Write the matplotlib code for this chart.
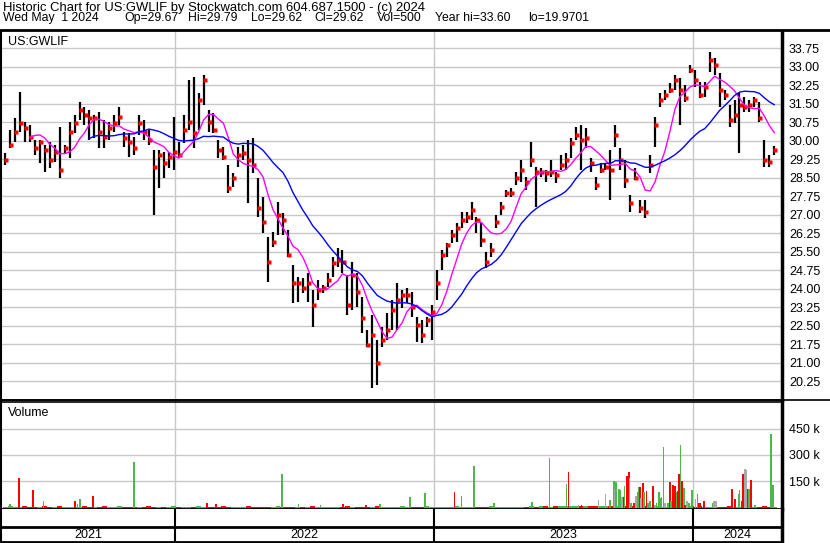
import numpy as np
import pandas as pd
import matplotlib
matplotlib.use('Agg')
import matplotlib.pyplot as plt
import matplotlib.dates as mdates

# weekly bars (one per week, first week of May 2021 onwards)
week_start = '2021-05-06'
highs = [29.51, 30.44, 30.92, 31.98, 30.76, 30.64, 30.03, 30.03, 29.83, 29.95,
         29.83, 30.56, 29.83, 30.76, 31.05, 31.57, 31.37, 31.25, 31.05, 31.17,
         30.84, 30.76, 31.05, 31.37, 30.36, 30.32, 30.15, 31.05, 30.84, 30.44,
         29.63, 29.63, 29.55, 29.55, 30.97, 29.95, 31.05, 32.46, 32.59, 31.94,
         32.67, 31.25, 31.13, 30.03, 29.75, 29.02, 28.70, 29.75, 29.83, 30.03,
         30.11, 28.49, 27.73, 26.10, 26.30, 27.52, 27.08, 26.38, 24.97, 24.48,
         24.44, 24.64, 23.95, 24.36, 24.16, 24.64, 25.29, 25.66, 25.57, 24.56,
         25.09, 24.64, 23.67, 22.33, 22.94, 21.93, 22.45, 23.02, 23.55, 24.24,
         23.95, 24.04, 23.87, 22.86, 22.74, 22.86, 23.34, 24.76, 25.57, 25.86,
         26.38, 26.67, 27.12, 27.12, 27.52, 26.91, 26.67, 25.49, 25.86, 27.00,
         27.52, 28.01, 28.09, 28.74, 29.22, 28.53, 29.95, 28.94, 28.90, 28.82,
         29.22, 28.74, 29.42, 29.51, 30.11, 30.56, 30.64, 30.52, 29.30, 28.53,
         29.10, 29.10, 29.63, 30.64, 29.71, 29.22, 27.80, 28.90, 27.60, 27.60,
         29.42, 30.97, 31.94, 32.06, 32.34, 32.67, 32.55, 32.26, 33.07, 32.87,
         32.38, 32.38, 33.60, 33.36, 32.75, 32.06, 31.45, 31.65, 31.94, 31.78,
         31.65, 31.78, 31.57, 30.03, 29.42, 29.79]
lows = [29.02, 29.71, 29.95, 30.36, 29.95, 29.95, 29.42, 29.10, 28.74, 28.90,
        29.14, 28.49, 29.51, 29.30, 30.32, 30.84, 30.64, 30.03, 30.11, 29.71,
        29.71, 30.03, 30.36, 30.64, 29.75, 29.34, 29.42, 30.24, 30.03, 29.83,
        27.00, 28.09, 28.49, 28.90, 28.82, 29.30, 29.91, 30.44, 29.71, 30.44,
        31.45, 30.36, 30.32, 29.30, 29.22, 27.89, 28.13, 28.94, 29.22, 27.48,
        28.70, 26.91, 26.26, 24.28, 25.70, 26.18, 26.18, 25.29, 23.43, 23.47,
        23.83, 23.47, 22.45, 23.55, 23.83, 24.08, 24.48, 24.89, 24.64, 22.94,
        23.14, 23.26, 22.21, 21.64, 19.97, 20.11, 21.64, 21.93, 22.33, 22.33,
        23.22, 23.43, 22.86, 21.85, 21.81, 22.45, 21.93, 23.55, 24.76, 25.29,
        25.86, 25.90, 26.47, 26.67, 26.79, 26.26, 25.70, 24.84, 25.29, 26.47,
        27.00, 27.73, 27.73, 28.21, 28.33, 28.01, 28.94, 27.32, 28.53, 28.33,
        28.53, 28.29, 28.82, 28.82, 29.30, 30.03, 28.82, 29.71, 28.74, 28.01,
        28.70, 28.82, 27.60, 29.75, 28.82, 28.09, 27.12, 28.41, 27.08, 26.87,
        28.70, 29.75, 31.37, 31.65, 31.94, 32.06, 30.64, 31.57, 32.75, 32.18,
        31.74, 31.78, 32.79, 32.67, 31.37, 31.65, 30.56, 30.72, 29.51, 31.17,
        31.17, 31.37, 30.76, 28.94, 28.94, 29.42]
closes = [29.22, 29.83, 30.36, 30.72, 30.52, 30.15, 29.71, 29.95, 29.63, 29.22,
          29.55, 28.82, 29.71, 30.36, 30.72, 31.25, 31.05, 30.92, 30.92, 30.36,
          30.15, 30.52, 30.72, 30.97, 30.11, 29.95, 29.71, 30.72, 30.36, 30.03,
          28.94, 29.42, 29.10, 29.34, 29.55, 29.42, 30.44, 30.76, 30.32, 31.65,
          32.46, 30.76, 30.44, 29.63, 29.34, 28.09, 28.49, 29.42, 29.51, 29.22,
          29.02, 27.28, 26.71, 25.09, 25.90, 27.00, 26.79, 25.37, 24.24, 24.24,
          24.04, 24.24, 23.34, 23.95, 24.04, 24.36, 25.05, 25.17, 25.09, 23.34,
          24.56, 23.87, 22.82, 21.73, 22.13, 21.00, 21.93, 22.33, 23.14, 23.55,
          23.75, 23.75, 23.26, 22.53, 22.13, 22.74, 23.06, 24.24, 25.37, 25.78,
          26.18, 26.47, 26.79, 26.91, 27.20, 26.79, 25.98, 25.09, 25.57, 26.71,
          27.32, 27.89, 27.89, 28.49, 28.82, 28.33, 29.22, 28.74, 28.74, 28.70,
          28.74, 28.61, 29.02, 29.22, 29.91, 30.24, 30.03, 30.11, 29.10, 28.21,
          28.82, 28.94, 28.82, 30.24, 29.22, 28.41, 27.48, 28.49, 27.28, 27.12,
          29.02, 30.64, 31.65, 31.86, 32.06, 32.46, 32.06, 31.74, 32.87, 32.46,
          31.86, 32.18, 33.28, 33.07, 32.06, 31.86, 30.84, 31.05, 31.45, 31.37,
          31.45, 31.65, 30.92, 29.22, 29.14, 29.62]

# quiet-day volume strip (thousands), one per week
base_vol_k = [3, 5, 2, 4, 6, 3, 4, 2, 5, 3, 4, 6, 3,
              2, 4, 3, 5, 2, 4, 3, 6, 4, 3, 5, 2, 4,
              3, 2, 4, 5, 3, 2, 4, 3, 5, 4, 2, 3, 4,
              5, 3, 4, 2, 3, 5, 4, 3, 2, 4, 6, 3, 4,
              2, 3, 4, 5, 3, 2, 4, 3, 4, 2, 5, 3, 4,
              3, 4, 2, 3, 5, 4, 3, 2, 4, 3, 5, 2, 4,
              3, 4, 5, 3, 2, 4, 3, 5, 4, 2, 3, 4, 3,
              5, 2, 4, 3, 4, 2, 3, 5, 3, 4, 2, 4, 3,
              4, 3, 5, 4, 6, 5, 4, 6, 5, 7, 6, 5, 6,
              7, 5, 6, 8, 6, 7, 5, 6, 7, 6, 5, 6, 5,
              4, 5, 3, 4, 5, 3, 4, 6, 5, 4, 5, 3, 4,
              5, 4, 3, 5, 4, 3, 5, 4, 3, 4, 5, 3, 4]

# heavier trading days (thousands): g = up, r = down, n = unchanged
spike_dates = ['2021-05-13', '2021-05-26', '2021-06-14', '2021-06-29', '2021-08-13',
               '2021-08-16', '2021-08-20', '2021-09-07', '2021-11-04', '2022-02-15',
               '2022-02-28', '2022-06-01', '2022-06-24', '2022-07-25', '2022-08-26',
               '2022-09-27', '2022-10-17', '2022-11-28', '2022-12-19', '2023-01-30',
               '2023-02-09', '2023-02-27', '2023-03-27', '2023-05-19', '2023-06-13',
               '2023-07-07', '2023-07-10', '2023-07-24', '2023-07-28', '2023-08-21',
               '2023-08-31', '2023-09-06', '2023-09-12', '2023-09-13', '2023-09-15',
               '2023-09-19', '2023-09-20', '2023-09-23', '2023-09-26', '2023-09-27',
               '2023-09-30', '2023-10-03', '2023-10-04', '2023-10-06', '2023-10-10',
               '2023-10-13', '2023-10-16', '2023-10-17', '2023-10-19', '2023-10-20',
               '2023-10-23', '2023-10-24', '2023-10-28', '2023-10-30', '2023-11-02',
               '2023-11-06', '2023-11-09', '2023-11-11', '2023-11-14', '2023-11-16',
               '2023-11-18', '2023-11-21', '2023-11-23', '2023-11-27', '2023-11-30',
               '2023-12-01', '2023-12-04', '2023-12-07', '2023-12-10', '2023-12-11',
               '2023-12-13', '2023-12-14', '2023-12-15', '2023-12-17', '2023-12-20',
               '2023-12-21', '2023-12-24', '2023-12-27', '2023-12-31', '2024-01-02',
               '2024-01-05', '2024-01-08', '2024-01-10', '2024-01-12', '2024-01-17',
               '2024-01-29', '2024-01-31', '2024-02-03', '2024-02-25', '2024-03-01',
               '2024-03-06', '2024-03-07', '2024-03-10', '2024-03-12', '2024-03-15',
               '2024-03-16', '2024-03-19', '2024-03-20', '2024-03-23', '2024-03-29',
               '2024-04-20', '2024-04-23']
spike_k = [21, 165, 100, 36, 36, 20, 48, 65, 256, 22,
           18, 192, 18, 15, 18, 15, 18, 60, 83, 88,
           65, 238, 22, 30, 284, 134, 199, 12, 12, 43,
           78, 43, 153, 107, 147, 105, 101, 61, 57, 124,
           176, 199, 165, 27, 24, 67, 90, 115, 115, 53,
           138, 90, 95, 22, 34, 124, 15, 27, 86, 53,
           57, 345, 22, 24, 143, 38, 130, 119, 90, 92,
           188, 172, 355, 153, 111, 12, 34, 22, 99, 7,
           49, 78, 22, 22, 36, 22, 36, 36, 105, 49,
           78, 99, 38, 188, 217, 211, 105, 105, 157, 15,
           418, 130]
spike_dir = ['g', 'r', 'r', 'g', 'r', 'g', 'g', 'r', 'g', 'r',
             'r', 'g', 'g', 'g', 'r', 'r', 'g', 'g', 'g', 'r',
             'g', 'g', 'g', 'g', 'g', 'g', 'r', 'n', 'r', 'n',
             'n', 'g', 'g', 'n', 'g', 'g', 'g', 'n', 'r', 'g',
             'r', 'r', 'n', 'g', 'r', 'n', 'g', 'g', 'r', 'n',
             'r', 'g', 'r', 'g', 'g', 'r', 'n', 'g', 'g', 'g',
             'g', 'g', 'n', 'g', 'r', 'g', 'r', 'r', 'g', 'r',
             'r', 'r', 'g', 'r', 'g', 'r', 'n', 'g', 'g', 'r',
             'n', 'g', 'r', 'r', 'r', 'g', 'n', 'n', 'r', 'r',
             'g', 'g', 'r', 'r', 'n', 'n', 'r', 'g', 'r', 'g',
             'g', 'g']

price_ticks = [20.25, 21.00, 21.75, 22.50, 23.25, 24.00, 24.75, 25.50, 26.25, 27.00,
               27.75, 28.50, 29.25, 30.00, 30.75, 31.50, 32.25, 33.00, 33.75]
vol_ticks = [150, 300, 450]
years = ['2021', '2022', '2023', '2024']

header1 = 'Historic Chart for US:GWLIF by Stockwatch.com 604.687.1500 - (c) 2024'
header2 = ['Wed May  1 2024', 'Op=29.67', 'Hi=29.79', 'Lo=29.62', 'Cl=29.62',
           'Vol=500', 'Year hi=33.60', 'lo=19.9701']
header2_x = [3, 124, 188, 251, 314, 377, 435, 528]   # pixel starts

W, H = 830, 543
GRID = '#c8c8c8'
VCOL = {'g': '#4cb84c', 'r': '#ff0000', 'n': '#a8a8a8'}

plt.rcParams['font.family'] = ['Liberation Sans', 'DejaVu Sans']


def box(x0, y0, x1, y1):
    # pixel box -> figure fraction rect
    return [x0 / W, 1 - y1 / H, (x1 - x0) / W, (y1 - y0) / H]


def main():
    weeks = pd.date_range(week_start, periods=len(closes), freq='7D')
    wx = mdates.date2num(weeks)
    c = pd.Series(closes)
    ma_fast = c.rolling(6).mean()
    ma_slow = c.rolling(18).mean()

    x_left = mdates.date2num(pd.Timestamp('2021-04-30 06:00'))
    x_right = mdates.date2num(pd.Timestamp('2024-05-06'))
    bounds = mdates.date2num(pd.to_datetime(['2022-01-01', '2023-01-01', '2024-01-01']))

    fig = plt.figure(figsize=(W / 100, H / 100), dpi=100)
    fig.text(3 / W, 1 - 10.5 / H, header1, fontsize=9.4, va='baseline')
    for s, px in zip(header2, header2_x):
        fig.text(px / W, 1 - 21 / H, s, fontsize=8.8, va='baseline')
    fig.add_artist(plt.Line2D([0, 1], [1 - 30 / H, 1 - 30 / H], color='black', lw=2))

    # price panel
    ax = fig.add_axes(box(1, 31, 782, 400))
    ax.set_xlim(x_left, x_right)
    ax.set_ylim(19.49, 34.45)
    for t in price_ticks:
        ax.axhline(t, color=GRID, lw=1, zorder=0)
    for b in bounds:
        ax.axvline(b, color=GRID, lw=1, zorder=0)
    ax.vlines(wx, lows, highs, color='black', lw=1.6, zorder=2)
    ax.plot(wx + 1.5, closes, 's', color='red', ms=2.3, mec='none', zorder=3)
    ax.plot(wx, ma_fast, color='#ff00ff', lw=1, zorder=4)
    ax.plot(wx, ma_slow, color='#0000ff', lw=1, zorder=4)
    ax.yaxis.tick_right()
    ax.set_yticks(price_ticks)
    ax.set_yticklabels(['%.2f' % t for t in price_ticks], fontsize=9)
    ax.tick_params(axis='y', length=0, pad=5)
    ax.set_xticks([])
    fig.text(8 / W, 1 - 42 / H, 'US:GWLIF', fontsize=9, va='center')
    for s in ax.spines.values():
        s.set_color('black')
    ax.spines['right'].set_linewidth(2.5)
    ax.spines['left'].set_linewidth(1.5)
    ax.spines['top'].set_linewidth(0)
    ax.spines['bottom'].set_linewidth(1.2)

    # volume panel
    av = fig.add_axes(box(1, 402, 782, 509))
    av.set_xlim(x_left, x_right)
    av.set_ylim(-10, 602)
    for t in vol_ticks:
        av.axhline(t, color=GRID, lw=1, zorder=0)
    for b in bounds:
        av.axvline(b, color=GRID, lw=1, zorder=0)
    chg = np.diff(np.r_[closes[0], closes])
    base_col = [VCOL['g'] if d >= 0 else VCOL['r'] for d in chg]
    av.bar(wx, np.array(base_vol_k) + 10, bottom=-10, width=7, color=base_col, lw=0, zorder=1)
    sx = mdates.date2num(pd.to_datetime(spike_dates))
    av.bar(sx, np.array(spike_k) + 10, bottom=-10, width=2.4,
           color=[VCOL[d] for d in spike_dir], lw=0, zorder=2)
    av.yaxis.tick_right()
    av.set_yticks(vol_ticks)
    av.set_yticklabels(['%d k' % t for t in vol_ticks], fontsize=9)
    av.tick_params(axis='y', length=0, pad=5)
    av.set_xticks([])
    fig.text(8 / W, 1 - 413 / H, 'Volume', fontsize=9, va='center')
    for s in av.spines.values():
        s.set_color('black')
    av.spines['right'].set_linewidth(2.5)
    av.spines['left'].set_linewidth(1.5)
    av.spines['top'].set_linewidth(1.2)
    av.spines['bottom'].set_linewidth(2)

    # date band
    ad = fig.add_axes(box(1, 509, 782, 542))
    ad.set_xlim(x_left, x_right)
    ad.set_ylim(0, 1)
    ad.axhline(15 / 33, color='black', lw=2)
    for b in bounds:
        ad.axvline(b, color='black', lw=1.5)
    edges = [x_left] + list(bounds) + [x_right]
    for i, y in enumerate(years):
        ad.text((edges[i] + edges[i + 1]) / 2, 7 / 33, y, fontsize=9,
                ha='center', va='center')
    ad.set_xticks([])
    ad.set_yticks([])
    for s in ad.spines.values():
        s.set_color('black')
    ad.spines['right'].set_linewidth(2.5)
    ad.spines['left'].set_linewidth(1.5)
    ad.spines['bottom'].set_linewidth(2)
    ad.spines['top'].set_linewidth(0)

    fig.add_artist(plt.Line2D([0, 1], [1 - 400 / H, 1 - 400 / H], color='black', lw=1.2))

    fig.savefig('out.png', dpi=100)


if __name__ == '__main__':
    main()
